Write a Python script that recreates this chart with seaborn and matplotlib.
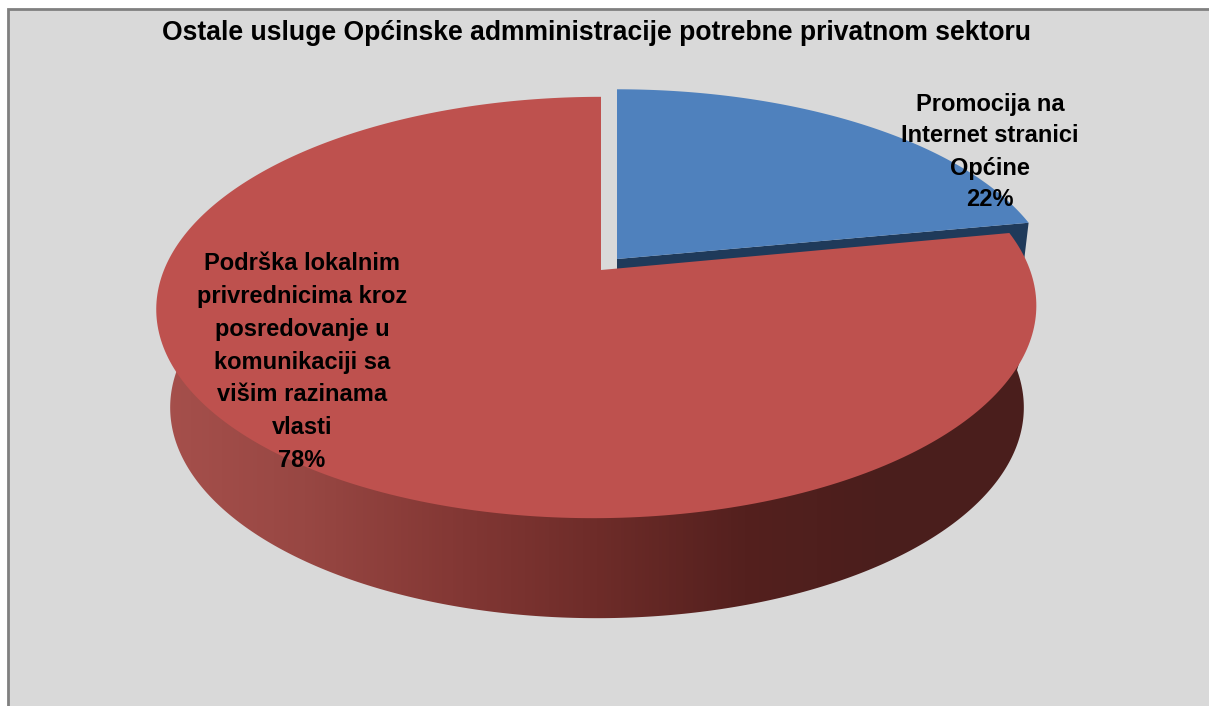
import numpy as np
import matplotlib
matplotlib.use('Agg')
import matplotlib.pyplot as plt
import seaborn as sns
from matplotlib.colors import LinearSegmentedColormap
from matplotlib.patches import Polygon, Rectangle

title = 'Ostale usluge Općinske admministracije potrebne privatnom sektoru'
blue_label = 'Promocija na\nInternet stranici\nOpćine'
red_label = 'Podrška lokalnim\nprivrednicima kroz\nposredovanje u\nkomunikaciji sa\nvišim razinama\nvlasti'
blue_share = 22
red_share = 78

sns.set_theme(style='white')
plt.rcParams['font.family'] = ['Liberation Sans', 'DejaVu Sans']

# the pie is a tilted disc, so project unit circle angles to the picture
def rim(start, end, apex_x, apex_y, sy=1.0, sx=1.0, skew=0.0):
    angles = np.radians(np.linspace(start, end, 300))
    u, v = np.cos(angles), np.sin(angles)
    w = 1 + 0.178 * v
    return apex_x + sx * 433 * u / w + skew * v, apex_y - sy * 204 * v / w

blue_end = 90 - blue_share * 3.6
red_start = 90 - (blue_share + red_share) * 3.6

fig, ax = plt.subplots(figsize=(12.09, 7.06), dpi=100)
fig.patch.set_facecolor('white')
ax.set_position([0, 0, 1, 1])
ax.axis('off')

ax.add_patch(Rectangle((8, 8.5), 1300, 800, fc='#D9D9D9', ec='#808080', lw=2))

# red side wall, darker towards the right
wall_cmap = LinearSegmentedColormap.from_list(
    'wall', ['#A6504C', '#984743', '#843835', '#6E2C29', '#54201E', '#4A1E1C', '#4A1E1C'])
grad = np.linspace(0, 1, 256).reshape(1, -1)
im = ax.imshow(grad, cmap=wall_cmap, aspect='auto', extent=(157, 1037, 620, 300), zorder=2)
bx, by = rim(0, -180, 597, 370, sx=0.97)
wall = Polygon(np.vstack([[1036, 308], np.column_stack([bx, by]), [158, 308]]),
               closed=True, transform=ax.transData, fc='none', ec='none')
ax.add_patch(wall)
im.set_clip_path(wall)

# blue slice with its dark cut face
ex, ey = rim(blue_end, blue_end, 617, 259, sy=0.98)
ax.fill([617, ex[0], ex[0] - 12, 617], [259, ey[0], ey[0] + 100, 359], color='#1F3A5A', zorder=3, lw=0)
x, y = rim(90, blue_end, 617, 259, sy=0.98)
ax.fill(np.r_[617, x], np.r_[259, y], color='#4F81BD', zorder=4, lw=0)

# red slice
x, y = rim(blue_end, red_start, 597, 270, skew=4)
ax.fill(np.r_[601, x], np.r_[270, y], color='#BE514E', zorder=5, lw=0)

ax.set_xlim(0, 1209)
ax.set_ylim(706, 0)

ax.text(597, 32.5, title, ha='center', va='center', fontsize=19.1, fontweight='bold',
        color='black', zorder=6)
ax.text(990, 152, f'{blue_label}\n{blue_share}%', ha='center', va='center', fontsize=17,
        fontweight='bold', color='black', linespacing=1.5, zorder=6)
ax.text(302, 362, f'{red_label}\n{red_share}%', ha='center', va='center', fontsize=17,
        fontweight='bold', color='black', linespacing=1.55, zorder=6)

plt.savefig('out.png', dpi=100)
